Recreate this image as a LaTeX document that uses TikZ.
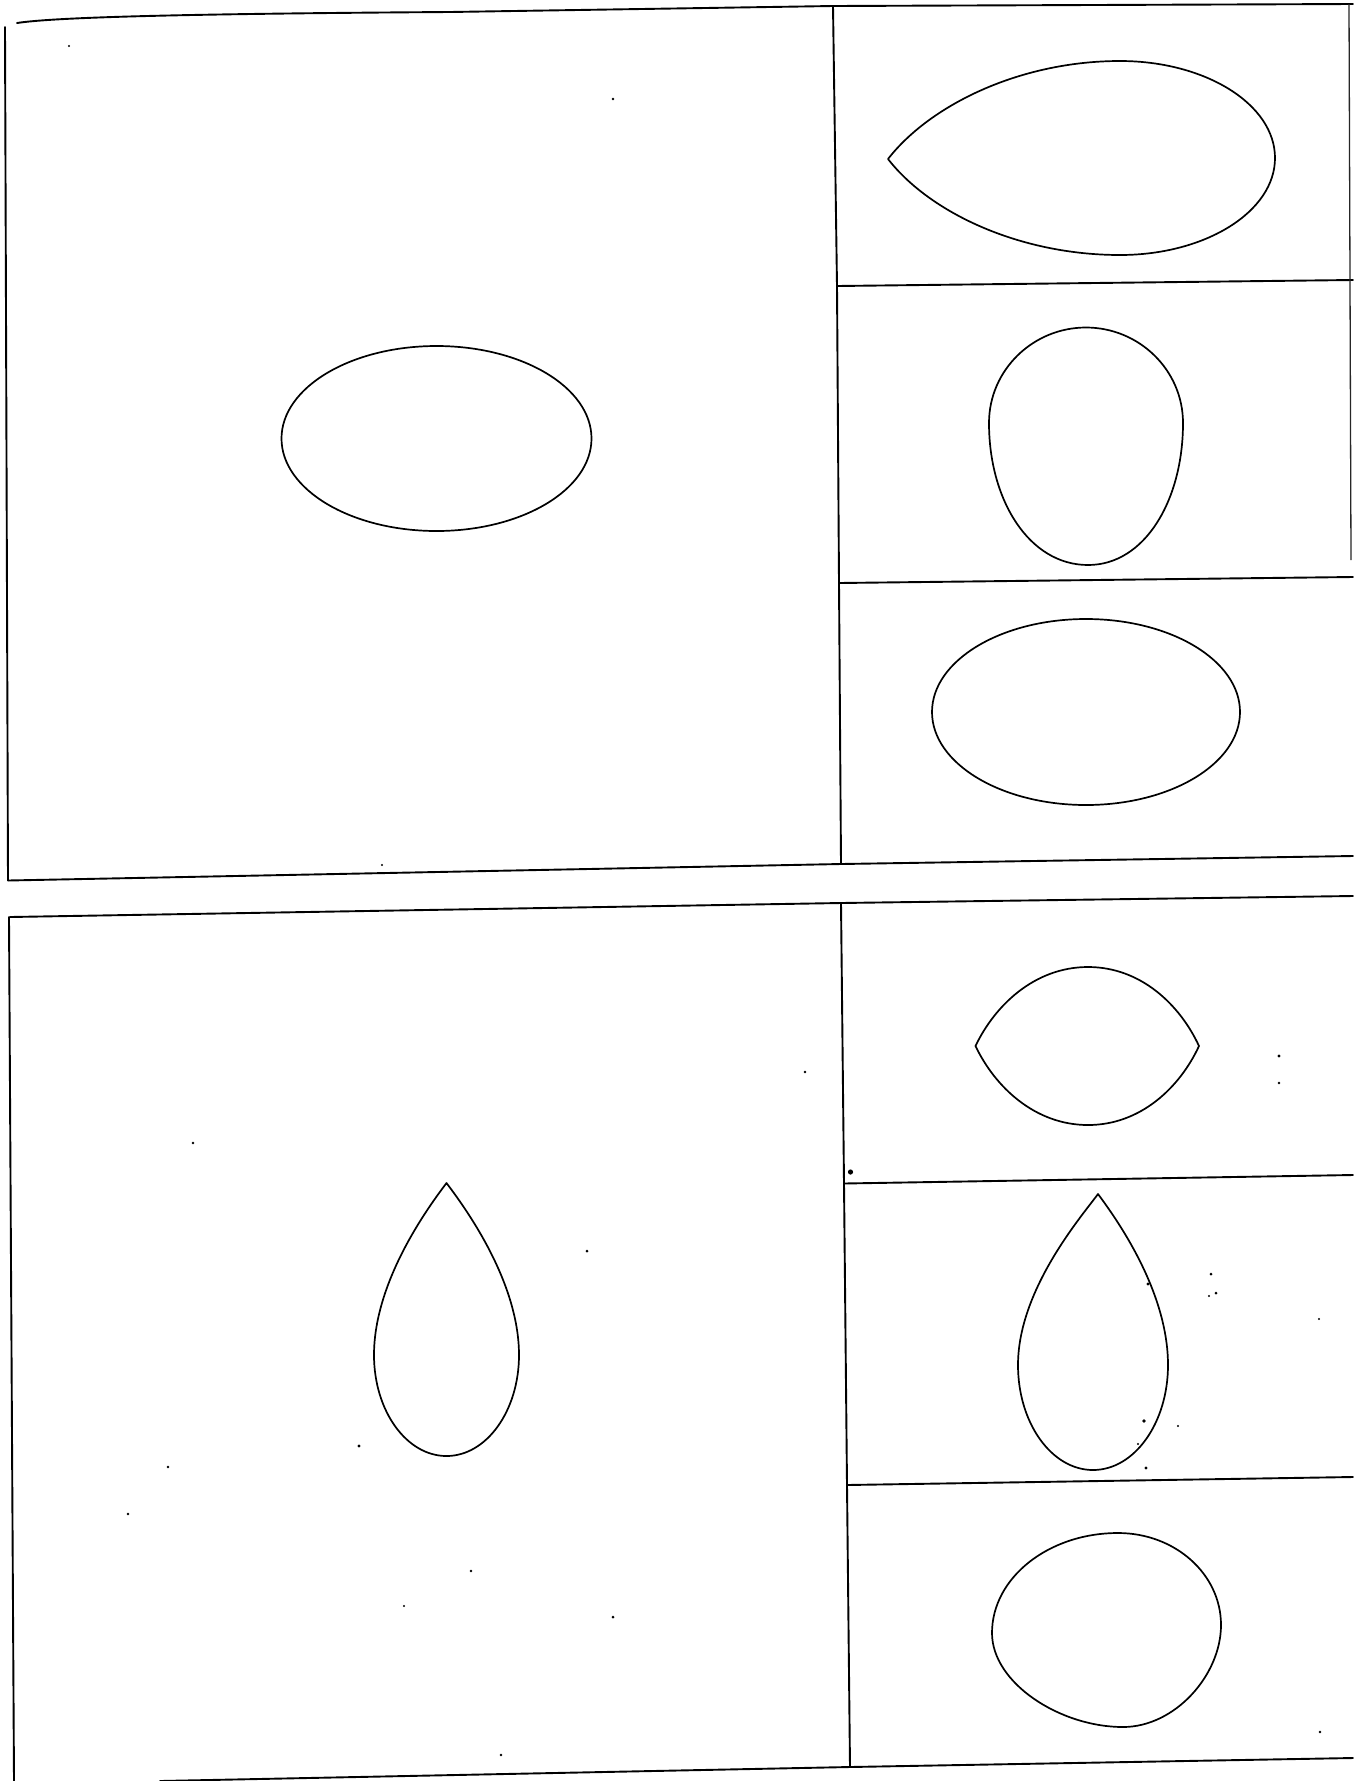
\documentclass[tikz,border=0pt]{standalone}
\begin{document}
\begin{tikzpicture}[x=1pt,y=-1pt,
  frame/.style={line width=1.9pt,black,line join=round,line cap=round},
  outline/.style={line width=1.7pt,black,line join=round},
  speck/.style={fill=black}]
\useasboundingbox (0,0) rectangle (1353,1781);
\fill[white] (0,0) rectangle (1353,1781);

% ---------- top sheet ----------
\draw[frame] (17,23) .. controls (50,18) and (150,14) .. (450,12) -- (833,6) -- (1353,4);
\draw[frame] (5,27) -- (8,880.5);
\draw[frame] (8,880.5) -- (841,864) -- (1353,856);
\draw[frame] (833,6) -- (837,286) -- (839,583) -- (841,864);
\draw[frame] (837,286) -- (1353,280);
\draw[frame] (839,583) -- (1353,577);
\draw[line width=1.3pt,black!85] (1349,4) -- (1351,560);

% left ellipse
\draw[outline] (436.5,438.5) ellipse [x radius=155pt, y radius=92.5pt];

% horizontal teardrop
\draw[outline] (888,159) .. controls (930,105) and (1020,61) .. (1120,61)
  .. controls (1205.6,61) and (1275,104.4) .. (1275,158)
  .. controls (1275,211.6) and (1205.6,255) .. (1120,255)
  .. controls (1020,255) and (930,213) .. cycle;

% egg (pointed downward)
\draw[outline] (989,423) .. controls (989,370) and (1033,327.5) .. (1086,327.5)
  .. controls (1139,327.5) and (1183,370) .. (1183,423)
  .. controls (1183,500) and (1145,565) .. (1088,565)
  .. controls (1029,565) and (989,500) .. cycle;

% right ellipse
\draw[outline] (1086,712) ellipse [x radius=154pt, y radius=93pt];

% ---------- bottom sheet ----------
\draw[frame] (10,917) -- (841,903) -- (1353,896);
\draw[frame] (9,917) -- (14,1781);
\draw[frame] (160,1781) -- (850,1767) -- (1353,1758);
\draw[frame] (841,903) -- (844,1183.5) -- (847,1485) -- (850,1767);
\draw[frame] (844,1183.5) -- (1353,1175);
\draw[frame] (847,1485) -- (1353,1477);

% left drop
\draw[outline] (446.5,1183) .. controls (430,1205) and (374,1280) .. (374,1355)
  .. controls (374,1410.8) and (406.5,1456) .. (446.5,1456)
  .. controls (486.5,1456) and (519,1410.8) .. (519,1355)
  .. controls (519,1280) and (463,1205) .. cycle;

% lens
\draw[outline] (975.5,1046) .. controls (995,1005) and (1035,967) .. (1088,967)
  .. controls (1141,967) and (1180,1005) .. (1199,1046)
  .. controls (1180,1087) and (1141,1125) .. (1088,1125)
  .. controls (1035,1125) and (995,1087) .. cycle;

% right drop
\draw[outline] (1098,1194) .. controls (1081,1217) and (1018,1290) .. (1018,1365)
  .. controls (1018,1423) and (1051.6,1470) .. (1093,1470)
  .. controls (1134.4,1470) and (1168,1423) .. (1168,1365)
  .. controls (1168,1290) and (1115,1217) .. cycle;

% rounded egg
\draw[outline] (992,1633) .. controls (992,1577.8) and (1048.4,1533) .. (1118,1533)
  .. controls (1175,1533) and (1221,1574) .. (1221,1625)
  .. controls (1221,1675) and (1175,1727) .. (1123,1727)
  .. controls (1060,1727) and (992,1683) .. cycle;

% specks
\foreach \px/\py/\r in {613/99/1.3, 69/46/1.1, 850.5/1172/2.6, 193/1143/1.4,
  587/1251/1.5, 359/1446/1.6, 168/1467/1.4, 128/1514/1.4, 471/1571/1.4,
  613/1617/1.5, 501/1755/1.4, 805/1072/1.4, 1279/1056/1.6, 1279/1083/1.3,
  1211/1274/1.5, 1216/1293/1.5, 1209/1296/1.1, 1148/1284/1.6, 1144/1421/1.8,
  1138/1444/1.1, 1146/1468/1.6, 1178/1426/1.2, 404/1606/1.2, 382/865/1.2,
  1319/1319/1.1, 1320/1732/1.3}
  \fill[speck] (\px,\py) circle [radius=\r pt];
\end{tikzpicture}
\end{document}
